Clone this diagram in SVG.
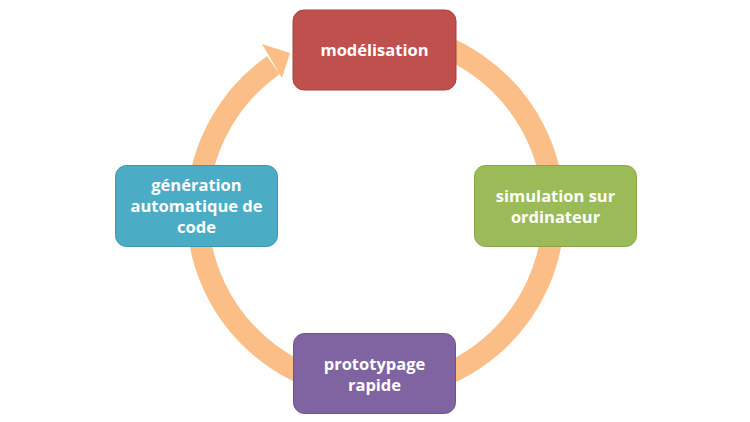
<svg xmlns="http://www.w3.org/2000/svg" width="750" height="422" viewBox="0 0 750 422">
<style>
.box{stroke-width:1}
.lbl{font-family:"Open Sans","Liberation Sans",sans-serif;font-weight:bold;font-size:16.5px;fill:#ffffff;text-anchor:middle}
.ring{fill:none;stroke:#FBBE86;stroke-width:22}
</style>
<rect width="750" height="422" fill="#ffffff"/>
<g id="connectors">
<path class="ring" d="M406.4,35.7 A178,178 0 1 1 273.4,65.2"/>
<polygon points="262,44 290,53 282,78" fill="#FBBE86"/>
</g>
<g id="modelisation">
<rect class="box" x="293" y="10" width="163" height="80" rx="11" fill="#C0504D" stroke="#A9403D"/>
<text class="lbl" x="374.5" y="56">modélisation</text>
</g>
<g id="simulation">
<rect class="box" x="474.5" y="165.5" width="162" height="81" rx="11" fill="#9BBB59" stroke="#87A64A"/>
<text class="lbl" x="555.5" y="202">simulation sur</text>
<text class="lbl" x="555.5" y="223">ordinateur</text>
</g>
<g id="prototypage">
<rect class="box" x="293.5" y="333.5" width="162" height="80" rx="11" fill="#8064A2" stroke="#6E548F"/>
<text class="lbl" x="374.5" y="370">prototypage</text>
<text class="lbl" x="374.5" y="391">rapide</text>
</g>
<g id="generation">
<rect class="box" x="115.5" y="165.5" width="162" height="81" rx="11" fill="#4BACC6" stroke="#3E97AF"/>
<text class="lbl" x="196.5" y="191">génération</text>
<text class="lbl" x="196.5" y="212">automatique de</text>
<text class="lbl" x="196.5" y="233">code</text>
</g>
</svg>
